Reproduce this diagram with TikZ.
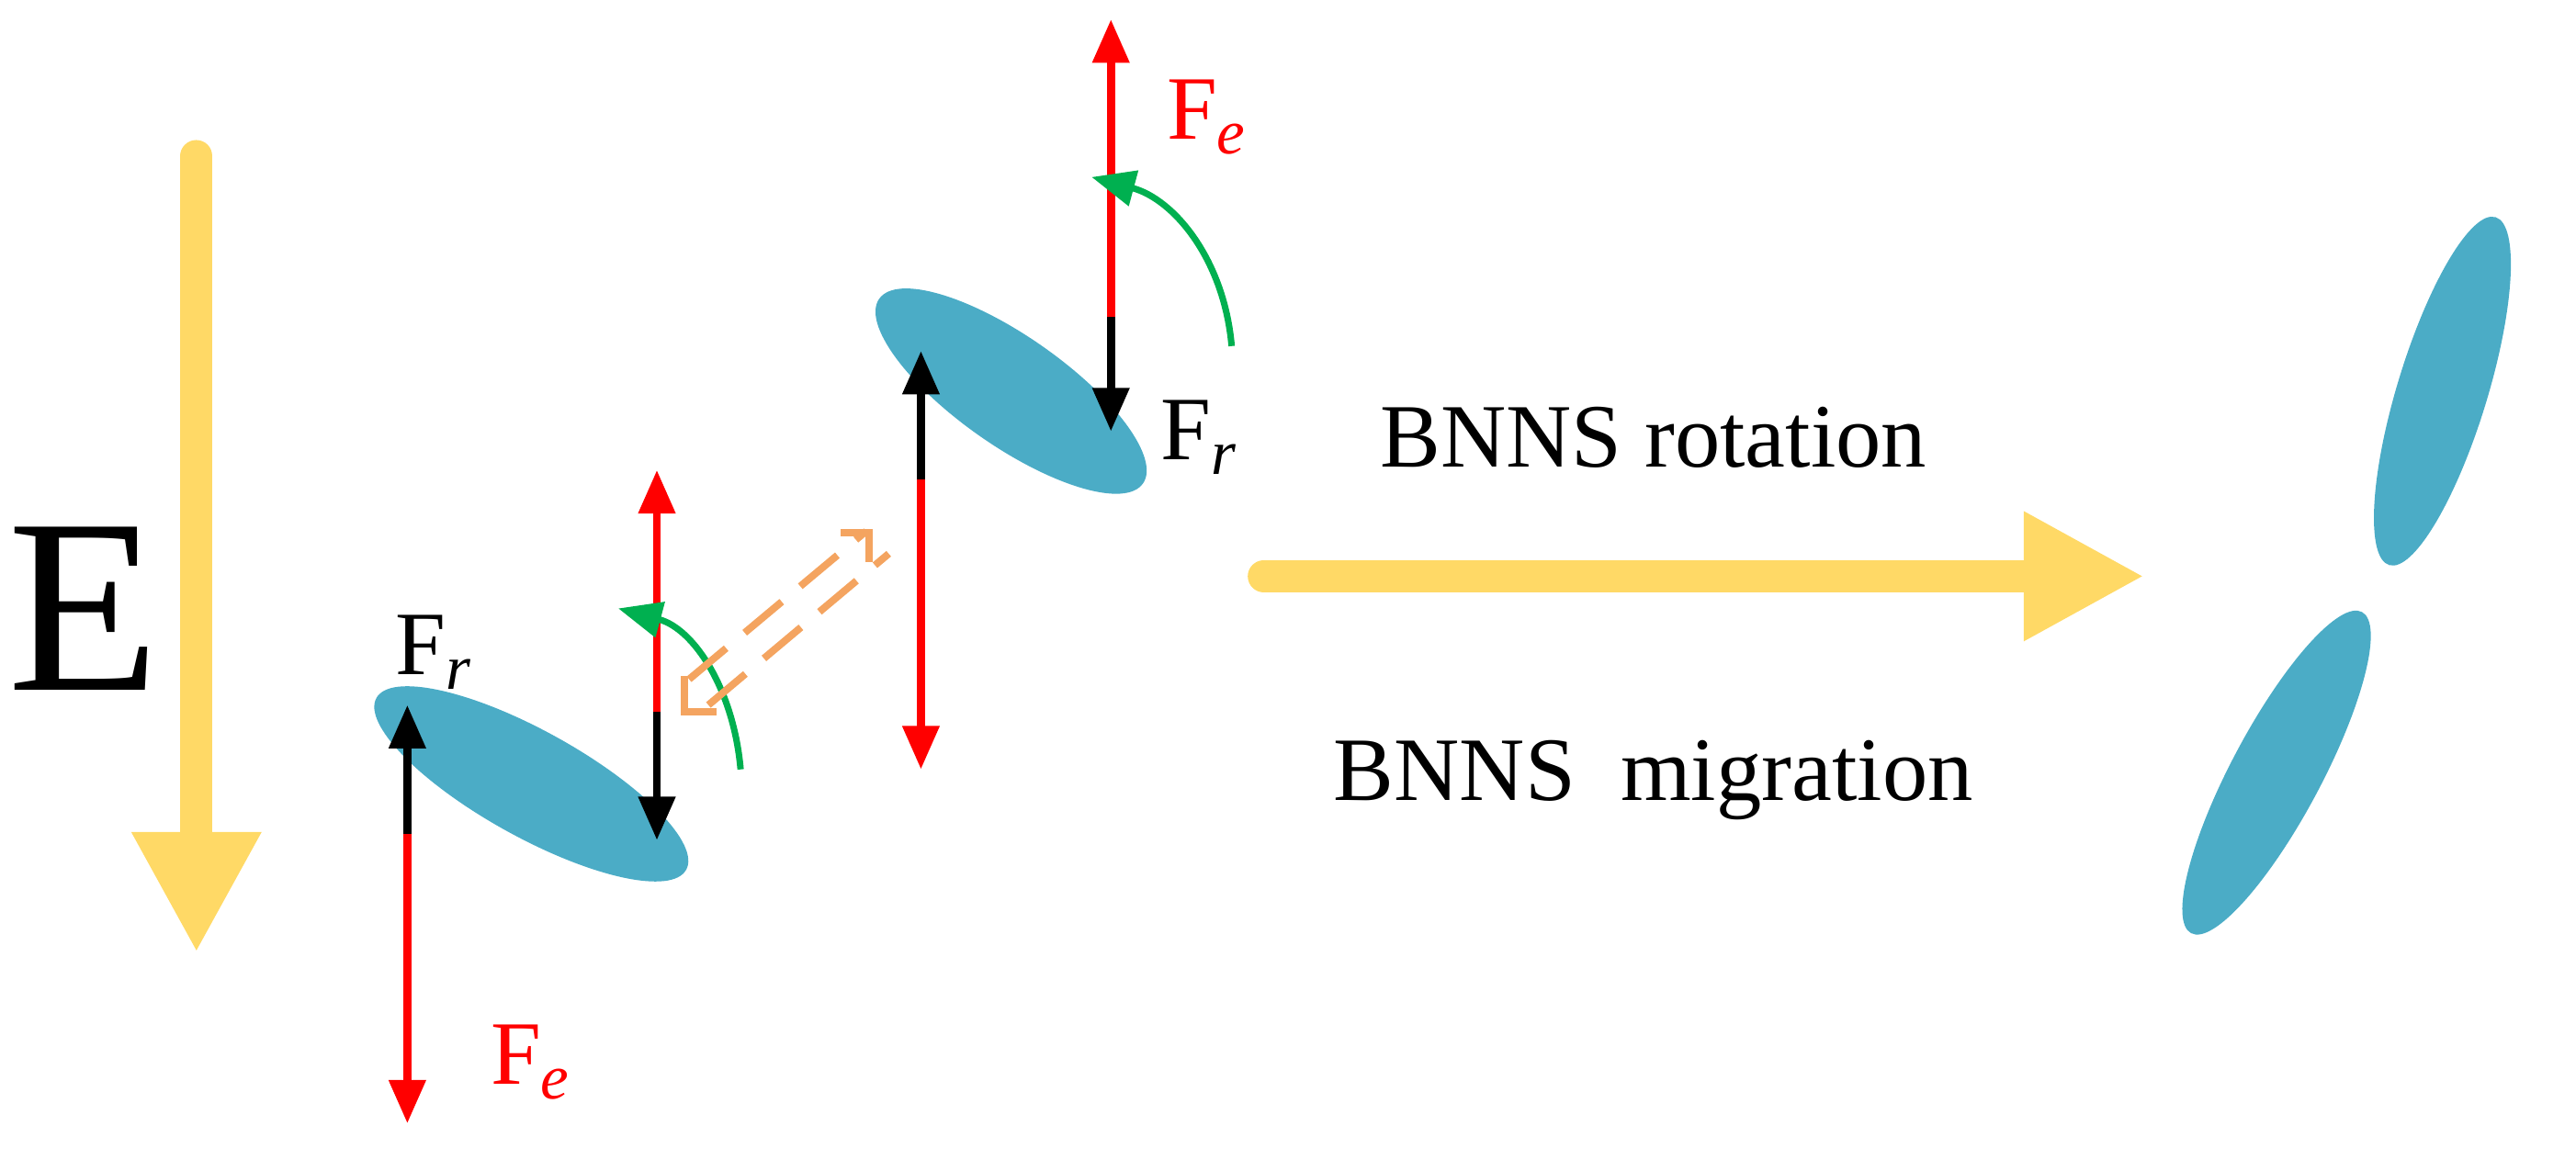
\documentclass[tikz,border=0pt]{standalone}
\usepackage{fontspec}
\setmainfont{Liberation Serif}
\usetikzlibrary{arrows.meta}
\definecolor{yel}{HTML}{FFD966}
\definecolor{blu}{HTML}{4BACC6}
\definecolor{grn}{HTML}{00B050}
\definecolor{org}{HTML}{F4A460}
\begin{document}
\begin{tikzpicture}[x=0.01cm,y=-0.01cm,
 big/.style={yel,line width=0.2cm,line cap=round,-{Triangle[width=0.75cm,length=0.75cm]}},
 redf/.style={red,line width=0.05cm,-{Triangle[width=0.22cm,length=0.27cm]}},
 blk/.style={black,line width=0.05cm,-{Triangle[width=0.22cm,length=0.27cm]}},
 grarc/.style={grn,line width=0.04cm,-{Triangle[width=0.22cm,length=0.27cm]}},
 blob/.style={fill=blu,draw=none},
 dsh/.style={org,line width=0.045cm,dash pattern=on 0.3cm off 0.15cm},
 lab/.style={font=\fontsize{16}{18}\selectfont,inner sep=0}]
\useasboundingbox (0,0) rectangle (1600,727);
% E arrow
\coordinate (e1) at (122,97); \coordinate (e2) at (122,592);
\draw[big] (e1) -- (e2);
\node[font=\fontsize{44}{48}\selectfont,inner sep=0] (E) at (52,378) {E};
% ellipses
\fill[blob,rotate around={-29:(330,487)}] (330,487) ellipse (110 and 33);
\fill[blob,rotate around={-35:(628,243)}] (628,243) ellipse (100 and 34);
\fill[blob,rotate around={73:(1517,243)}] (1517,243) ellipse (113 and 28);
\fill[blob,rotate around={62:(1414,480)}] (1414,480) ellipse (113 and 28);
% left ellipse forces
\coordinate (a0) at (253,518); \coordinate (a1) at (253,438); \coordinate (a2) at (253,698);
\draw[blk] (a0) -- (a1); \draw[redf] (a0) -- (a2);
\node[lab] (fr1) at (270,405) {F$_{\mathit{r}}$};
\node[lab,red] (fe1) at (330,660) {F$_{\mathit{e}}$};
% middle
\coordinate (b0) at (408,442); \coordinate (b1) at (408,292); \coordinate (b2) at (408,522);
\draw[redf] (b0) -- (b1); \draw[blk] (b0) -- (b2);
\coordinate (g1s) at (460,478); \coordinate (g1e) at (384,378);
\draw[grarc] (g1s) to[out=95,in=-15] (g1e);
% dashed double arrow
\coordinate (d1) at (428,422); \coordinate (d2) at (538,330);
\coordinate (d3) at (440,438); \coordinate (d4) at (552,344);
\draw[dsh] (d1) -- (d2);
\draw[dsh] (d3) -- (d4);
\draw[org,line width=0.045cm] (522,331) -- (540,331) -- (540,349);
\draw[org,line width=0.045cm] (425,420) -- (425,442) -- (445,442);
% second ellipse
\coordinate (c0) at (572,298); \coordinate (c1) at (572,218); \coordinate (c2) at (572,478);
\draw[blk] (c0) -- (c1); \draw[redf] (c0) -- (c2);
\coordinate (h0) at (690,197); \coordinate (h1) at (690,12); \coordinate (h2) at (690,268);
\draw[redf] (h0) -- (h1); \draw[blk] (h0) -- (h2);
\coordinate (g2s) at (765,215); \coordinate (g2e) at (678,110);
\draw[grarc] (g2s) to[out=95,in=-15] (g2e);
\node[lab,red] (fe2) at (750,73) {F$_{\mathit{e}}$};
\node[lab] (fr2) at (745,272) {F$_{\mathit{r}}$};
% right
\node[lab] (rot) at (1027,272) {BNNS rotation};
\node[lab] (mig) at (1027,485) {BNNS\ \ migration};
\coordinate (k1) at (785,358); \coordinate (k2) at (1332,358);
\draw[big] (k1) -- (k2);
\end{tikzpicture}
\end{document}
